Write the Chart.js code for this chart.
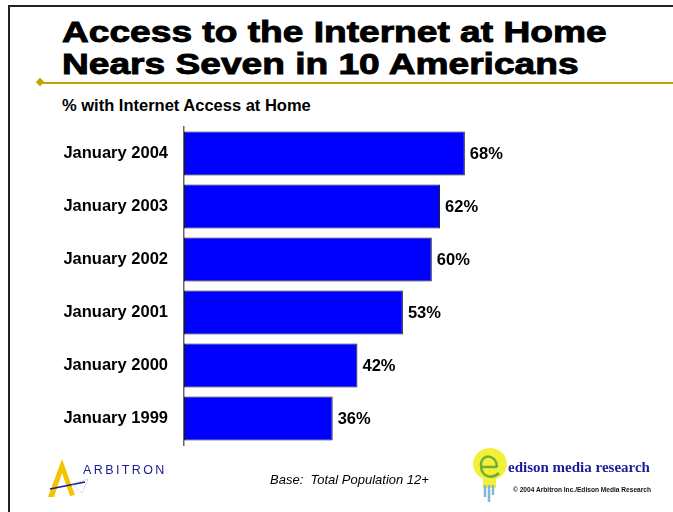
<!DOCTYPE html>
<html>
<head>
<meta charset="utf-8">
<title>Access to the Internet at Home</title>
<script src="https://cdn.jsdelivr.net/npm/chart.js@4"></script>
<style>
  html, body { margin: 0; padding: 0; background: #fff; }
  #slide { position: relative; width: 673px; height: 512px; overflow: hidden; font-family: "Liberation Sans", Arial, sans-serif; }
  #frame { position: absolute; left: 8px; top: 5px; width: 700px; height: 600px; border-top: 2px solid #222; border-left: 2px solid #222; }
  #title { position: absolute; left: 62px; top: 16px; font-size: 29px; line-height: 32px; font-weight: bold; color: #000; white-space: nowrap;
           -webkit-text-stroke: 0.9px #000; transform: scaleX(1.28); transform-origin: 0 0; }
  #rule { position: absolute; left: 40px; top: 82px; width: 640px; height: 2px; background: #C4A200; }
  #diamond { position: absolute; left: 37px; top: 79px; width: 6px; height: 6px; background: #C4A200; transform: rotate(45deg); }
  #subtitle { position: absolute; left: 62px; top: 96px; font-size: 16.5px; font-weight: bold; }
  #chart { position: absolute; left: 0; top: 0; }
  #base { position: absolute; left: 270px; top: 472px; font-size: 13px; font-style: italic; }
  #arbText { position: absolute; left: 83px; top: 463px; font-size: 12.5px; letter-spacing: 2.4px; color: #1B1B8F; }
  #edisonText { position: absolute; left: 508px; top: 459px; font-family: "Liberation Serif", "Times New Roman", serif; font-size: 15px; font-weight: bold; color: #1B1B9A; }
  #copy { position: absolute; left: 513px; top: 486px; font-size: 6.6px; font-weight: bold; color: #111; white-space: nowrap; }
  svg { position: absolute; }
</style>
</head>
<body>
<div id="slide">
  <div id="frame"></div>
  <div id="title">Access to the Internet at Home<br>Nears Seven in 10 Americans</div>
  <div id="diamond"></div>
  <div id="rule"></div>
  <div id="subtitle">% with Internet Access at Home</div>
  <canvas id="chart" width="673" height="512"></canvas>

  <!-- Arbitron mark -->
  <svg style="left:44px;top:455px" width="48" height="45" viewBox="0 0 48 45">
    <polygon points="4,42 18,4 31,40 26,41 18,18 10,42" fill="#F5C400"/>
    <line x1="6" y1="34" x2="41" y2="27" stroke="#1B1B8F" stroke-width="1.5"/>
    <polygon points="28,29 44,24 38,38" fill="none" stroke="#8A8AD0" stroke-width="0.6" stroke-dasharray="1,1"/>
  </svg>
  <div id="arbText">ARBITRON</div>

  <div id="base">Base:&nbsp; Total Population 12+</div>

  <!-- Edison bulb -->
  <svg style="left:472px;top:447px" width="36" height="58" viewBox="0 0 36 58">
    <ellipse cx="18" cy="17" rx="17" ry="16" fill="#F3F03A"/>
    <path d="M25,20 C25,7 9,6 9,18 C9,31 21,32 27,26 M9,20 L25,20" fill="none" stroke="#6DAF3A" stroke-width="2.5"/>
    <rect x="11" y="31" width="13" height="10" fill="#F3F03A"/>
    <path d="M13,38 L13,50 M17,38 L17,55 M21,38 L21,48" stroke="#7FB8D8" stroke-width="2.5"/>
  </svg>
  <div id="edisonText">edison media research</div>
  <div id="copy">© 2004 Arbitron Inc./Edison Media Research</div>
</div>

<script>
// data
var categories = ["January 2004", "January 2003", "January 2002", "January 2001", "January 2000", "January 1999"];
var values = [68, 62, 60, 53, 42, 36];
var xMin = 0;
var xMax = 100;

var labelFont = '"Liberation Sans", Arial, sans-serif';

// draws "NN%" to the right of each bar
var valueLabels = {
  id: 'valueLabels',
  afterDatasetsDraw: function (chart) {
    var ctx = chart.ctx;
    var meta = chart.getDatasetMeta(0);
    ctx.save();
    ctx.font = 'bold 16.5px ' + labelFont;
    ctx.fillStyle = '#000';
    ctx.textAlign = 'left';
    ctx.textBaseline = 'middle';
    meta.data.forEach(function (bar, i) {
      ctx.fillText(values[i] + '%', bar.x + 5, bar.y + 1);
    });
    ctx.restore();
  }
};

var ctx = document.getElementById("chart");
var myChart = new Chart(ctx, {
  type: 'bar',
  data: {
    labels: categories,
    datasets: [{
      data: values,
      backgroundColor: '#0000FF',
      borderColor: '#1a1a1a',
      borderWidth: 1,
      borderSkipped: false,
      barPercentage: 0.83,
      categoryPercentage: 1
    }]
  },
  options: {
    indexAxis: 'y',
    responsive: false,
    animation: false,
    layout: {
      padding: { left: 0, top: 127, right: 76, bottom: 67 }
    },
    plugins: {
      legend: { display: false },
      tooltip: { enabled: false }
    },
    scales: {
      x: {
        display: false,
        min: xMin,
        max: xMax
      },
      y: {
        grid: { display: false, drawTicks: false },
        border: { display: true, color: '#666', width: 1.5 },
        ticks: {
          color: '#000',
          padding: 16,
          font: { family: labelFont, size: 16.5, weight: 'bold' }
        },
        // fixed axis width so the bars start at the same place
        afterFit: function (scale) {
          scale.width = 184;
        }
      }
    }
  },
  plugins: [valueLabels]
});
</script>
</body>
</html>
